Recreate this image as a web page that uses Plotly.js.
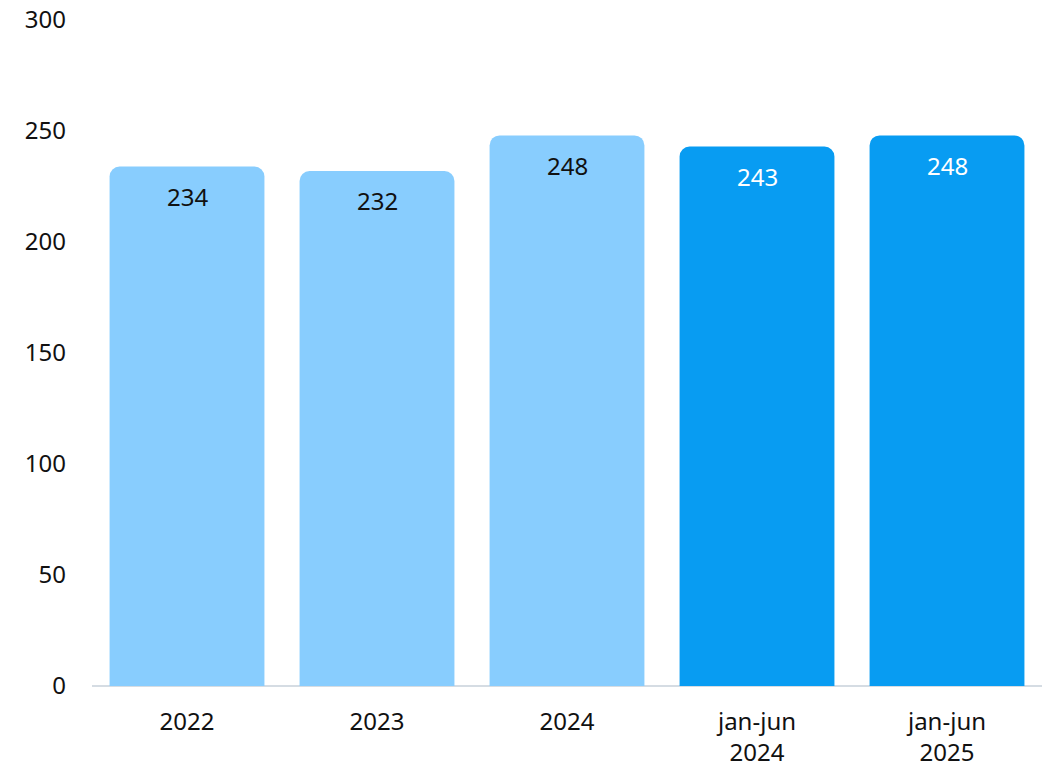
<!DOCTYPE html>
<html>
<head>
<meta charset="utf-8">
<script src="https://cdn.plot.ly/plotly-3.0.1.min.js"></script>
<style>html,body{margin:0;padding:0;background:#fff;}#chart{width:1051px;height:772px;}</style>
</head>
<body>
<div id="chart"></div>
<script>
const categories = ["2022", "2023", "2024", "jan-jun<br>2024", "jan-jun<br>2025"];
const values = [234, 232, 248, 243, 248];
const barColors = ["#88CDFE", "#88CDFE", "#88CDFE", "#089CF2", "#089CF2"];
const labelColors = ["#111111", "#111111", "#111111", "#ffffff", "#ffffff"];
const yTicks = [0, 50, 100, 150, 200, 250, 300];

const FONT = "Noto Sans, Open Sans, sans-serif";
const FS = 24;

const trace = {
  type: "bar",
  x: categories,
  y: values,
  marker: { color: barColors, cornerradius: 10, line: { width: 0 } },
  hoverinfo: "skip"
};

const annotations = categories.map((c, i) => ({
  x: i, y: values[i], xref: "x", yref: "y",
  text: String(values[i]), showarrow: false,
  yanchor: "middle", yshift: -30,
  font: { family: FONT, size: FS, color: labelColors[i] }
}));

const layout = {
  width: 1051, height: 772,
  margin: { l: 92, r: 9, t: 20, b: 86 },
  paper_bgcolor: "#ffffff", plot_bgcolor: "#ffffff",
  showlegend: false,
  bargap: 0.185,
  font: { family: FONT, size: FS, color: "#111111" },
  xaxis: {
    type: "category",
    categoryorder: "array", categoryarray: categories,
    range: [-0.5, categories.length - 0.5],
    showgrid: false, showline: false, zeroline: false,
    ticks: "", ticklabelstandoff: 19,
    tickfont: { family: FONT, size: FS, color: "#111111" }
  },
  yaxis: {
    range: [0, 300], tickvals: yTicks, ticktext: yTicks.map(String),
    showgrid: false, showline: false,
    zeroline: true, zerolinecolor: "#D5DCE3", zerolinewidth: 2,
    ticks: "", ticklabelstandoff: 25,
    tickfont: { family: FONT, size: FS, color: "#111111" },
    layer: "above traces"
  },
  annotations: annotations
};

Plotly.newPlot("chart", [trace], layout, { displayModeBar: false, staticPlot: true });
</script>
</body>
</html>
